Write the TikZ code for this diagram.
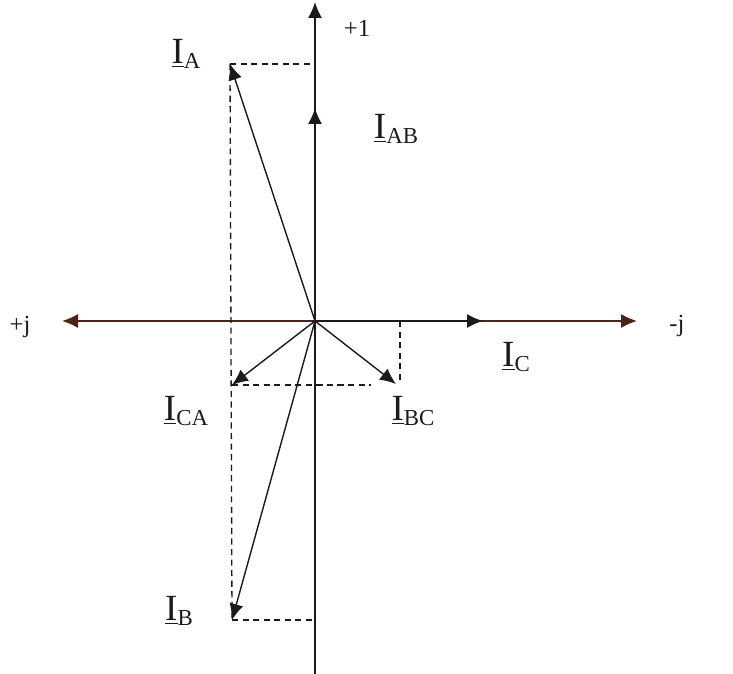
\documentclass[tikz,border=0pt]{standalone}
\usepackage{fontspec}
\setmainfont{Liberation Serif}
\usetikzlibrary{arrows.meta}
\definecolor{Ink}{HTML}{1E1A1C}
\definecolor{AxisBrown}{HTML}{4B2319}

\newcommand{\cur}[1]{\underline{I}\raisebox{-0.3ex}{\fontsize{13}{13}\selectfont #1}}

\begin{document}
\begin{tikzpicture}[
  vec/.style={-{Latex[length=3.2mm,width=2.8mm]},line width=0.8pt,draw=Ink},
  guide/.style={dash pattern=on 3.5pt off 2.5pt,line width=0.75pt,draw=Ink},
  lbl/.style={font=\fontsize{21}{24}\selectfont,text=Ink,inner sep=0pt},
  axlbl/.style={font=\fontsize{14}{16}\selectfont,text=Ink,inner sep=0pt}
]
\useasboundingbox (0,0) rectangle (14.66,13.48);
% axes
\coordinate (O) at (6.30,7.06);
\coordinate (top) at (6.30,13.44);
\coordinate (bot) at (6.30,0);
\coordinate (left) at (1.24,7.06);
\coordinate (right) at (12.74,7.06);
\draw[vec] (bot) -- (top);
\draw[vec,{Latex[length=3.2mm,width=2.8mm]}-{Latex[length=3.2mm,width=2.8mm]},draw=AxisBrown] (left) -- (right);
% phasor tips
\coordinate (ia) at (4.60,12.20);
\coordinate (ib) at (4.64,1.08);
\coordinate (iab) at (6.30,11.32);
\coordinate (ic) at (9.66,7.06);
\coordinate (ica) at (4.64,5.78);
\coordinate (ibc) at (7.92,5.80);
% construction lines
\coordinate (iaR) at (6.30,12.20);
\coordinate (ibR) at (6.30,1.08);
\coordinate (icaR) at (7.42,5.78);
\coordinate (ibcU) at (8.00,7.06);
\coordinate (ibcD) at (8.00,5.80);
\draw[guide] (ia) -- (iaR);
\draw[guide] (ia) -- (ib);
\draw[guide] (ib) -- (ibR);
\draw[guide] (ica) -- (icaR);
\draw[guide] (ibcU) -- (ibcD);
% phasors
\draw[vec] (O) -- (ia);
\draw[vec] (O) -- (ib);
\draw[vec] (O) -- (iab);
\draw[vec] (O) -- (ic);
\draw[vec] (O) -- (ica);
\draw[vec] (O) -- (ibc);
% labels
\node[axlbl] (plusone) at (7.14,12.92) {+1};
\node[axlbl] (plusj) at (0.40,6.94) {+j};
\node[axlbl] (minusj) at (13.54,6.96) {-j};
\node[lbl] (la) at (3.72,12.40) {\cur{A}};
\node[lbl] (lab) at (7.92,10.90) {\cur{AB}};
\node[lbl] (lc) at (10.32,6.34) {\cur{C}};
\node[lbl] (lca) at (3.72,5.26) {\cur{CA}};
\node[lbl] (lbc) at (8.26,5.26) {\cur{BC}};
\node[lbl] (lb) at (3.58,1.26) {\cur{B}};
\end{tikzpicture}
\end{document}
